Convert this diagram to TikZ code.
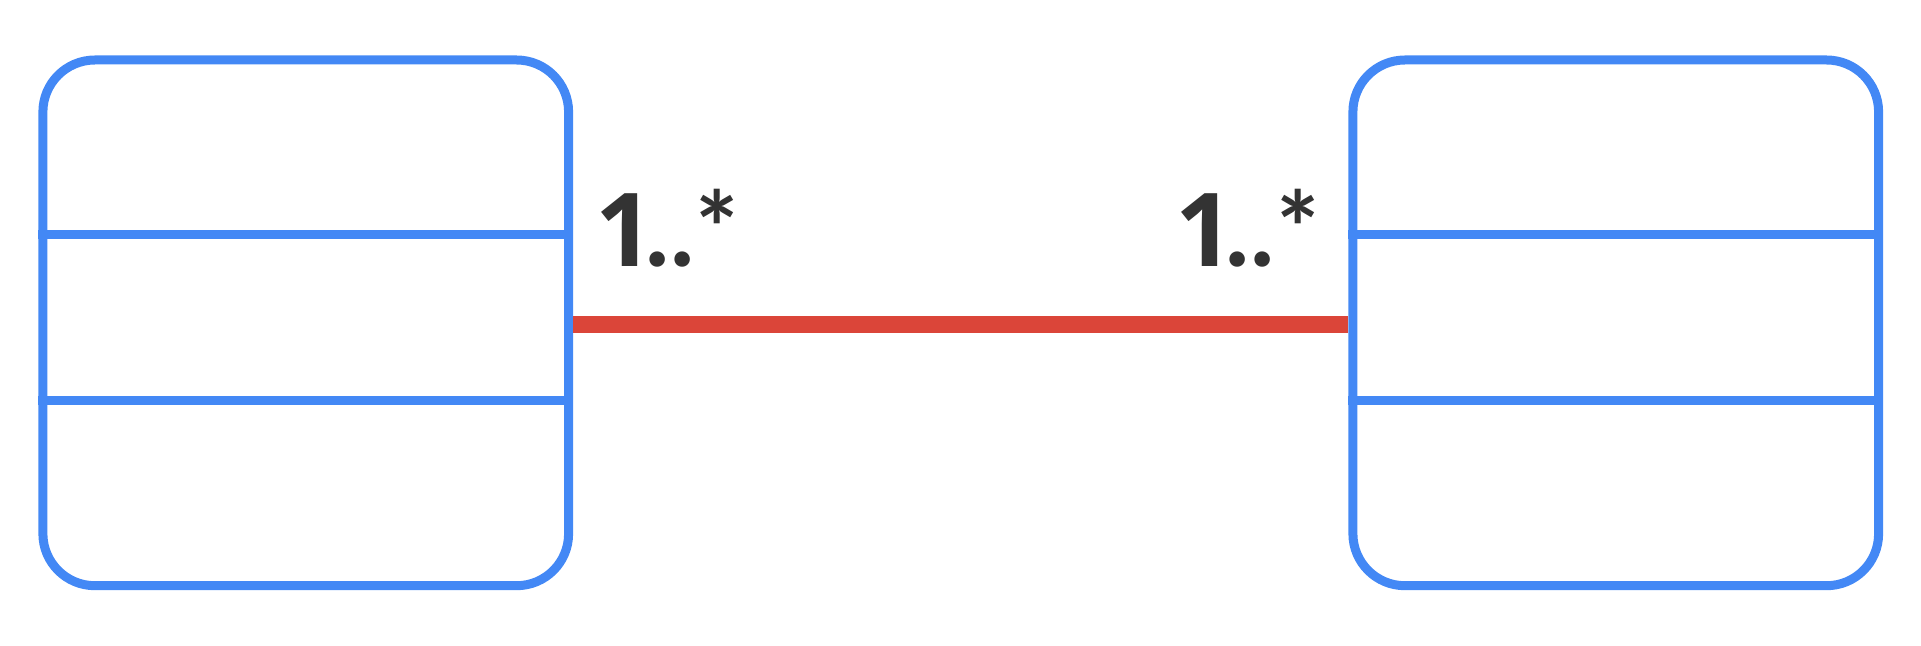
\documentclass[tikz,border=0pt]{standalone}
\usepackage{fontspec}
\setmainfont{Open Sans}
\newfontfamily\starfont{Lato}
\usepackage{tikz}
\usetikzlibrary{positioning}
\definecolor{classblue}{HTML}{4388F5}
\definecolor{assocred}{HTML}{DB4539}
\definecolor{multgray}{HTML}{333333}
\newcommand{\multlabel}{1\kern-4pt{\starfont.\kern0.3pt.\kern0.5pt*}}
\tikzstyle{umlclass} = [rectangle, rounded corners=26pt, minimum width=262.85pt, minimum height=262.85pt, draw=classblue, line width=4.5pt]
\tikzstyle{divider} = [draw=classblue, line width=4.5pt]
\tikzstyle{assoc} = [draw=assocred, line width=8.5pt]
\tikzstyle{mult} = [inner sep=0pt, text=multgray, font=\fontsize{51}{51}\selectfont\bfseries]

\begin{document}
\begin{tikzpicture}[x=0.5pt, y=-0.5pt]
	\useasboundingbox (0,0) rectangle (1921,646);
	\node (leftclass) [umlclass] at (305.75,322.85) {};
	\node (rightclass) [umlclass, right=387.65pt of leftclass] {};
	% compartments
	\draw [divider] ([yshift=-89.75pt]leftclass.north west) -- ([yshift=-89.75pt]leftclass.north east);
	\draw [divider] ([yshift=-172.75pt]leftclass.north west) -- ([yshift=-172.75pt]leftclass.north east);
	\draw [divider] ([yshift=-89.75pt]rightclass.north west) -- ([yshift=-89.75pt]rightclass.north east);
	\draw [divider] ([yshift=-172.75pt]rightclass.north west) -- ([yshift=-172.75pt]rightclass.north east);
	% association
	\draw [assoc] ([yshift=-1pt]leftclass.east) -- node [mult, pos=0, anchor=base west, xshift=6.7pt, yshift=29pt] (leftmult) {\multlabel} node [mult, pos=1, anchor=base east, xshift=-10.3pt, yshift=29pt] (rightmult) {\multlabel} ([yshift=-1pt]rightclass.west);
\end{tikzpicture}
\end{document}
